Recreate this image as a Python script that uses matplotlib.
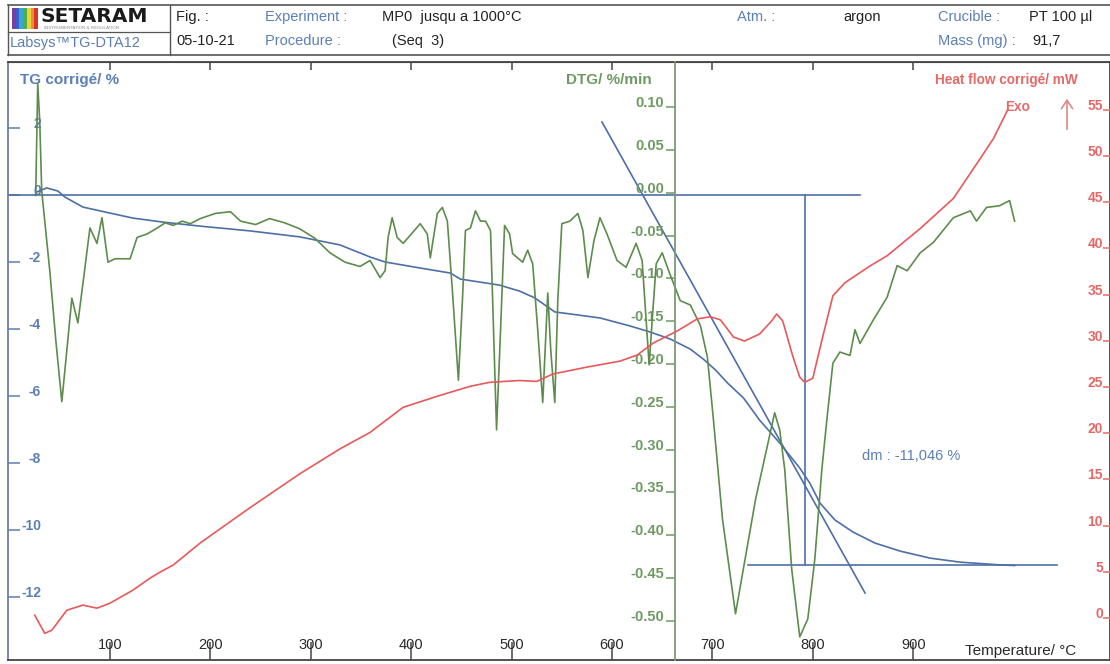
import matplotlib
matplotlib.use("Agg")
import matplotlib.pyplot as plt
from matplotlib.lines import Line2D
from matplotlib.patches import Rectangle
from matplotlib.ticker import FormatStrFormatter

plt.rcParams["font.family"] = ["Liberation Sans", "DejaVu Sans"]

W, H = 1110, 664

# ---- curves ----
# TG corrigé (%) vs temperature (°C)
tg_temp = [27, 37, 48, 55, 73, 100, 123, 153, 190, 239,
           289, 329, 359, 374, 409, 439, 449, 488, 508, 523,
           543, 588, 618, 638, 658, 678, 691, 703, 715, 731,
           747, 767, 787, 797, 807, 822, 840, 862, 887, 917,
           947, 986, 1001]
tg_val = [0.09, 0.21, 0.12, -0.06, -0.36, -0.54, -0.69, -0.81, -0.93, -1.07,
          -1.25, -1.49, -1.85, -2.00, -2.18, -2.33, -2.51, -2.69, -2.87, -3.07,
          -3.49, -3.67, -3.91, -4.09, -4.30, -4.60, -4.90, -5.22, -5.61, -6.06,
          -6.72, -7.40, -8.15, -8.60, -9.19, -9.70, -10.06, -10.39, -10.63, -10.84,
          -10.96, -11.04, -11.06]

# DTG (%/min)
dtg_temp = [26, 28, 30, 32, 40, 46, 52, 57, 62, 68,
            74, 80, 87, 92, 98, 105, 120, 127, 137, 147,
            155, 163, 172, 180, 190, 205, 220, 230, 245, 259,
            274, 289, 304, 319, 334, 349, 359, 369, 374, 377,
            381, 386, 392, 409, 416, 419, 426, 431, 436, 441,
            447, 451, 454, 459, 464, 469, 474, 479, 482, 485,
            489, 493, 498, 501, 511, 516, 521, 526, 531, 536,
            539, 543, 546, 550, 558, 566, 571, 576, 582, 588,
            595, 605, 614, 624, 630, 634, 637, 640, 644, 650,
            657, 668, 678, 688, 695, 701, 710, 723, 743, 762,
            767, 772, 779, 787, 795, 802, 809, 814, 820, 827,
            837, 842, 847, 860, 874, 884, 894, 907, 920, 940,
            957, 963, 973, 986, 996, 1001]
dtg_val = [-0.003, 0.128, 0.084, 0.002, -0.091, -0.172, -0.244, -0.184, -0.123, -0.152,
           -0.097, -0.041, -0.059, -0.029, -0.081, -0.077, -0.077, -0.052, -0.048, -0.041,
           -0.035, -0.038, -0.033, -0.036, -0.030, -0.024, -0.022, -0.033, -0.037, -0.030,
           -0.035, -0.042, -0.053, -0.070, -0.081, -0.086, -0.079, -0.099, -0.091, -0.052,
           -0.029, -0.052, -0.059, -0.036, -0.048, -0.076, -0.024, -0.017, -0.033, -0.114,
           -0.219, -0.126, -0.044, -0.041, -0.021, -0.033, -0.033, -0.044, -0.160, -0.277,
           -0.160, -0.038, -0.048, -0.071, -0.081, -0.067, -0.083, -0.160, -0.245, -0.117,
           -0.184, -0.245, -0.126, -0.036, -0.033, -0.024, -0.044, -0.099, -0.056, -0.029,
           -0.048, -0.079, -0.087, -0.059, -0.079, -0.149, -0.201, -0.149, -0.083, -0.070,
           -0.093, -0.126, -0.131, -0.155, -0.192, -0.265, -0.381, -0.492, -0.358, -0.257,
           -0.277, -0.323, -0.440, -0.519, -0.498, -0.428, -0.323, -0.265, -0.199, -0.186,
           -0.190, -0.160, -0.176, -0.149, -0.122, -0.085, -0.091, -0.070, -0.058, -0.029,
           -0.021, -0.033, -0.017, -0.015, -0.009, -0.033]

# Heat flow corrigé (mW)
hf_temp = [25, 35, 42, 57, 73, 87, 100, 123, 140, 150,
           163, 190, 239, 289, 329, 359, 392, 426, 459, 478,
           508, 525, 541, 575, 608, 625, 641, 665, 685, 698,
           708, 721, 732, 747, 759, 764, 770, 780, 787, 792,
           800, 810, 820, 832, 857, 874, 907, 940, 967, 980,
           994]
hf_val = [0.3, -1.66, -1.33, 0.84, 1.39, 1.06, 1.6, 3.02, 4.32, 4.97,
          5.73, 8.13, 11.9, 15.6, 18.3, 20.08, 22.8, 24.0, 25.08, 25.5,
          25.7, 25.6, 26.4, 27.15, 27.8, 28.45, 29.75, 31.06, 32.37, 32.6,
          32.26, 30.4, 29.97, 30.73, 32.15, 32.9, 32.15, 28.34, 26.06, 25.5,
          25.95, 30.5, 34.87, 36.28, 38.1, 39.2, 42.15, 45.4, 49.76, 51.9,
          54.97]

# step evaluation on the TG curve
base_temp = [-2, 847]
base_val = [0.0, 0.0]
end_temp = [735, 1043]
end_val = [-11.04, -11.04]
mid_temp = [792, 792]
mid_val = [0.0, -11.04]
tang_temp = [590, 852]
tang_val = [2.18, -11.88]

t_ticks = [100, 200, 300, 400, 500, 600, 700, 800, 900]
tg_ticks = [2, 0, -2, -4, -6, -8, -10, -12]
dtg_ticks = [0.10, 0.05, 0.00, -0.05, -0.10, -0.15, -0.20, -0.25,
             -0.30, -0.35, -0.40, -0.45, -0.50]
hf_ticks = [0, 5, 10, 15, 20, 25, 30, 35, 40, 45, 50, 55]

BLUE = "#4d6fa8"
BLUE_T = "#5b7fb5"
GREEN = "#5d8c4c"
GREEN_T = "#6e9a62"
RED = "#e9585a"
RED_T = "#e46a68"
FRAME = "#454545"


def pt(px):
    return px * 72.0 / 100.0


fig = plt.figure(figsize=(W / 100, H / 100), dpi=100)
fig.patch.set_facecolor("white")

ax = fig.add_axes([8 / W, 4 / H, 1102 / W, 598 / H])
ax.set_xlim(-1.6, 1096)
ax.set_ylim(-13.88, 3.97)

# TG + construction lines
ax.plot(tg_temp, tg_val, color=BLUE, lw=1.2)
ax.plot(base_temp, base_val, color=BLUE, lw=1.2)
ax.plot(end_temp, end_val, color=BLUE, lw=1.2)
ax.plot(mid_temp, mid_val, color=BLUE, lw=1.2)
ax.plot(tang_temp, tang_val, color=BLUE, lw=1.2)

for s in ["left", "bottom", "top", "right"]:
    ax.spines[s].set_color(FRAME)
    ax.spines[s].set_linewidth(1.3)
ax.spines["left"].set_color("#6d7fa0")

ax.set_xticks(t_ticks)
ax.set_xticklabels([str(t) for t in t_ticks])
ax.tick_params(axis="x", direction="in", length=pt(18), width=1.1, color=FRAME,
               pad=-pt(22), labelsize=10.5, labelcolor="#2a2a2a")
top = ax.secondary_xaxis("top")
top.set_xticks(t_ticks)
top.tick_params(axis="x", direction="in", length=pt(8), width=1.1, color=FRAME,
                labeltop=False)
top.spines["top"].set_color(FRAME)

ax.set_yticks(tg_ticks)
ax.set_yticklabels([str(v) for v in tg_ticks])
ax.tick_params(axis="y", direction="in", length=pt(12), width=1.1, color=BLUE_T,
               pad=-pt(33), labelsize=10, labelcolor=BLUE_T)
for lab in ax.get_yticklabels():
    lab.set_fontweight("bold")
    lab.set_va("baseline")

# DTG axis
ax2 = ax.twinx()
ax2.set_ylim(-0.546, 0.153)
ax2.plot(dtg_temp, dtg_val, color=GREEN, lw=1.2)
for s in ["right", "top", "bottom"]:
    ax2.spines[s].set_visible(False)
ax2.spines["left"].set_visible(True)
ax2.spines["left"].set_position(("data", 663))
ax2.spines["left"].set_color("#7d9a74")
ax2.spines["left"].set_linewidth(1.3)
ax2.yaxis.set_ticks_position("left")
ax2.set_yticks(dtg_ticks)
ax2.yaxis.set_major_formatter(FormatStrFormatter("%.2f"))
ax2.tick_params(axis="y", direction="out", length=pt(9), width=1.1, color=GREEN_T,
                pad=pt(2), labelsize=10.5, labelcolor=GREEN_T)
for lab in ax2.get_yticklabels():
    lab.set_fontweight("bold")
    lab.set_va("baseline")

# Heat flow axis
ax3 = ax.twinx()
ax3.set_ylim(-4.55, 60.17)
ax3.plot(hf_temp, hf_val, color=RED, lw=1.2)
for s in ["left", "top", "bottom", "right"]:
    ax3.spines[s].set_visible(False)
ax3.set_yticks(hf_ticks)
ax3.set_yticklabels([str(v) for v in hf_ticks])
ax3.tick_params(axis="y", direction="in", length=pt(7), width=1.1, color=RED_T,
                pad=-pt(7), labelsize=10, labelcolor=RED_T)
for lab in ax3.get_yticklabels():
    lab.set_fontweight("bold")
    lab.set_va("baseline")
    lab.set_ha("right")


def fx(x):
    return x / W


def fy(y):
    return 1 - y / H


# axis titles inside the frame
fig.text(fx(20), fy(80), "TG corrigé/ %", color=BLUE_T, fontsize=11,
         fontweight="bold", va="center", ha="left")
fig.text(fx(652), fy(80), "DTG/ %/min", color=GREEN_T, fontsize=11,
         fontweight="bold", va="center", ha="right")
fig.text(fx(1078), fy(80), "Heat flow corrigé/ mW", color=RED_T, fontsize=9.8,
         fontweight="bold", va="center", ha="right")
fig.text(fx(1018), fy(107), "Exo", color=RED_T, fontsize=9.8,
         fontweight="bold", va="center", ha="center")
fig.add_artist(matplotlib.patches.FancyArrowPatch(
    (fx(1067), fy(132)), (fx(1067), fy(96)), transform=fig.transFigure,
    arrowstyle="->,head_length=6,head_width=4", color="#d98a8a", lw=1.2))
fig.text(fx(965), fy(651), "Temperature/ °C", color="#2a2a2a", fontsize=11,
         va="center", ha="left")
fig.text(fx(862), fy(456), "dm : -11,046 %", color=BLUE_T, fontsize=10.5,
         va="center", ha="left")

# header block
def hline(x0, x1, y, lw=1.0):
    fig.add_artist(Line2D([fx(x0), fx(x1)], [fy(y), fy(y)],
                          transform=fig.transFigure, color="#555", lw=lw))


def vline(x, y0, y1, lw=1.0):
    fig.add_artist(Line2D([fx(x), fx(x)], [fy(y0), fy(y1)],
                          transform=fig.transFigure, color="#555", lw=lw))


hline(8, 1110, 5, 1.2)
hline(8, 1110, 55, 1.2)
hline(8, 170, 32, 0.9)
vline(8, 5, 55, 1.0)
vline(170, 5, 55, 1.0)

logo_cols = ["#7a3fa0", "#3b5fc8", "#39a6d8", "#4cb050", "#e8d33a", "#f08c2a", "#d9342b"]
for i, c in enumerate(logo_cols):
    fig.add_artist(Rectangle((fx(12 + i * 3.7), fy(29)), 3.7 / W, 21 / H,
                             transform=fig.transFigure, color=c, lw=0))
fig.text(fx(40), fy(17), "SETARAM", fontsize=14.5, fontweight="bold",
         family="DejaVu Sans", color="#1a1a1a", va="center", ha="left")
fig.text(fx(44), fy(28), "INSTRUMENTATION & REGULATION", fontsize=3.2,
         color="#888", va="center", ha="left")
fig.text(fx(10), fy(43), "Labsys™TG-DTA12", fontsize=10.5, color=BLUE_T,
         va="center", ha="left")

hdr_black = "#222222"
fig.text(fx(176), fy(17), "Fig. :", fontsize=10.5, color=hdr_black, va="center")
fig.text(fx(176), fy(41), "05-10-21", fontsize=10.5, color=hdr_black, va="center")
fig.text(fx(265), fy(17), "Experiment :", fontsize=10.5, color=BLUE_T, va="center")
fig.text(fx(265), fy(41), "Procedure :", fontsize=10.5, color=BLUE_T, va="center")
fig.text(fx(382), fy(17), "MP0  jusqu a 1000°C", fontsize=10.5, color=hdr_black, va="center")
fig.text(fx(392), fy(41), "(Seq  3)", fontsize=10.5, color=hdr_black, va="center")
fig.text(fx(737), fy(17), "Atm. :", fontsize=10.5, color=BLUE_T, va="center")
fig.text(fx(843), fy(17), "argon", fontsize=10.5, color=hdr_black, va="center")
fig.text(fx(938), fy(17), "Crucible :", fontsize=10.5, color=BLUE_T, va="center")
fig.text(fx(938), fy(41), "Mass (mg) :", fontsize=10.5, color=BLUE_T, va="center")
fig.text(fx(1029), fy(17), "PT 100 µl", fontsize=10.5, color=hdr_black, va="center")
fig.text(fx(1032), fy(41), "91,7", fontsize=10.5, color=hdr_black, va="center")

fig.savefig("out.png", dpi=100, facecolor="white")
